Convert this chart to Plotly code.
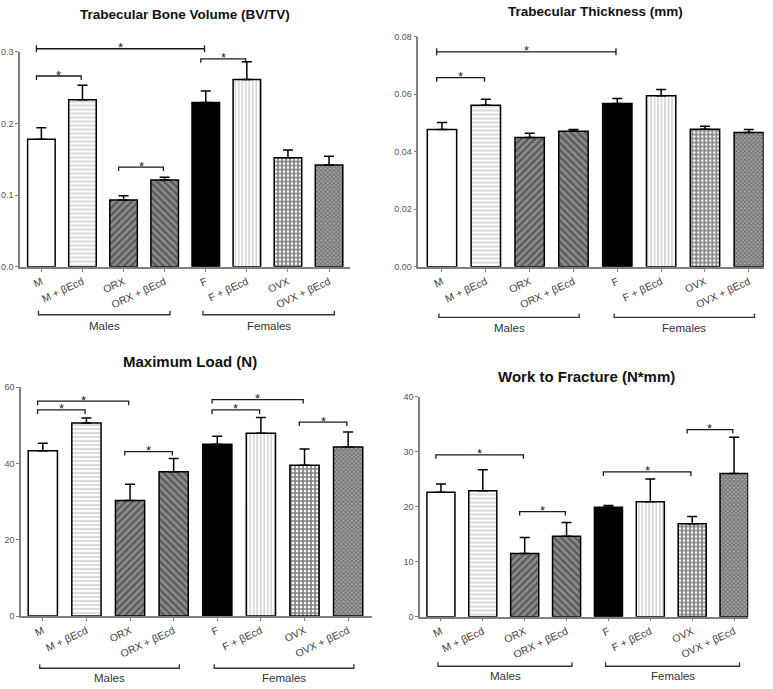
import plotly.graph_objects as go

# ---------------- data ----------------
categories = ["M", "M + βEcd", "ORX", "ORX + βEcd", "F", "F + βEcd", "OVX", "OVX + βEcd"]
groups = [("Males", 0, 3), ("Females", 4, 7)]

bvtv_mean = [0.178, 0.233, 0.093, 0.121, 0.229, 0.261, 0.152, 0.142]
bvtv_sem = [0.016, 0.020, 0.006, 0.004, 0.016, 0.025, 0.011, 0.012]
bvtv_sig = [(0, 4, 0.304), (0, 1, 0.266), (2, 3, 0.139), (4, 5, 0.290)]

thk_mean = [0.0477, 0.0561, 0.0449, 0.0471, 0.0567, 0.0594, 0.0478, 0.0467]
thk_sem = [0.0024, 0.0021, 0.0015, 0.0006, 0.0018, 0.0022, 0.0010, 0.0010]
thk_sig = [(0, 4, 0.0747), (0, 1, 0.0657)]

load_mean = [43.3, 50.6, 30.3, 37.8, 45.0, 47.9, 39.5, 44.3]
load_sem = [2.0, 1.3, 4.2, 3.5, 2.1, 4.1, 4.3, 3.9]
load_sig = [(0, 2, 56.3), (0, 1, 54.0), (2, 3, 43.1), (4, 6, 56.7), (4, 5, 54.0), (6, 7, 50.8)]

work_mean = [22.6, 22.9, 11.5, 14.6, 19.9, 20.9, 16.9, 26.0]
work_sem = [1.5, 3.8, 2.9, 2.5, 0.3, 4.1, 1.3, 6.6]
work_sig = [(0, 2, 29.4), (2, 3, 19.1), (4, 6, 26.3), (6, 7, 34.0)]

titles = ["Trabecular Bone Volume (BV/TV)", "Trabecular Thickness (mm)",
          "Maximum Load (N)", "Work to Fracture (N*mm)"]

# ---------------- styling / layout ----------------
W, H = 773, 689
FONT = "Arial, Liberation Sans, sans-serif"

bar_styles = [
    dict(color="white", shape="", fg="black", size=6, sol=0.3),
    dict(color="white", shape="-", fg="#6a6a6a", size=4, sol=0.25),
    dict(color="#8a8a8a", shape="/", fg="#262626", size=5, sol=0.42),
    dict(color="#8a8a8a", shape="\\", fg="#262626", size=5, sol=0.42),
    dict(color="black", shape="", fg="black", size=6, sol=0.3),
    dict(color="white", shape="|", fg="#777777", size=3.5, sol=0.3),
    dict(color="white", shape="+", fg="#000000", size=4, sol=0.65),
    dict(color="#a8a8a8", shape="x", fg="#2a2a2a", size=3, sol=0.5),
]

panels = [
    dict(mean=bvtv_mean, sem=bvtv_sem, sig=bvtv_sig, box=(20, 350, 47.3, 265.7),
         xr=(-0.52, 7.51), yr=(0, 0.3), dtick=0.1, fmt=".1f", capped=[0],
         title_xy=(185, 10), title_size=13.5, grp_dy=48.6, grp_lab_dy=11),
    dict(mean=thk_mean, sem=thk_sem, sig=thk_sig, box=(418.3, 763.7, 32, 265.7),
         xr=(-0.54, 7.34), yr=(0, 0.08), dtick=0.02, fmt=".2f", capped=[0],
         title_xy=(595, 7), title_size=13.5, grp_dy=51.3, grp_lab_dy=11),
    dict(mean=load_mean, sem=load_sem, sig=load_sig, box=(21, 371.7, 387.7, 620),
         xr=(-0.5, 7.54), yr=(0, 60), dtick=20, fmt="d", capped=[],
         title_xy=(190, 362), title_size=15, grp_dy=53, grp_lab_dy=10),
    dict(mean=work_mean, sem=work_sem, sig=work_sig, box=(420, 748.3, 397.3, 620.7),
         xr=(-0.5, 7.34), yr=(0, 40), dtick=10, fmt="d", capped=[],
         title_xy=(586.7, 377.3), title_size=15, grp_dy=50.3, grp_lab_dy=10),
]

fig = go.Figure()
shapes = []
annotations = []


def px_x(p):
    return p / W


def px_y(p):
    return 1 - p / H


for k, P in enumerate(panels):
    sfx = "" if k == 0 else str(k + 1)
    xa, ya = "x" + sfx, "y" + sfx
    left, right, top, bottom = P["box"]
    y0, y1 = P["yr"]

    def val_to_py(v, y0=y0, y1=y1, top=top, bottom=bottom):
        return bottom - (v - y0) / (y1 - y0) * (bottom - top)

    for c, cat in enumerate(categories):
        st = bar_styles[c]
        fig.add_trace(go.Bar(
            x=[cat], y=[P["mean"][c]], xaxis=xa, yaxis=ya, width=0.67,
            marker=dict(color=st["color"], line=dict(color="black", width=1.5),
                        pattern=dict(shape=st["shape"], fgcolor=st["fg"],
                                     size=st["size"], solidity=st["sol"],
                                     fillmode="overlay")),
            error_y=dict(type="data", symmetric=False, array=[P["sem"][c]],
                         arrayminus=[0], color="black", thickness=1.5, width=5),
            showlegend=False, hoverinfo="skip"))

    fig.layout["xaxis" + sfx] = dict(
        domain=[px_x(left), px_x(right)], anchor=ya, type="category",
        categoryorder="array", categoryarray=categories, range=list(P["xr"]),
        showline=True, linecolor="#808080", linewidth=1.5, showgrid=False,
        zeroline=False, ticks="outside", ticklen=3, tickcolor="#808080",
        tickangle=-25, tickfont=dict(family=FONT, size=10.5, color="#444"))
    fig.layout["yaxis" + sfx] = dict(
        domain=[px_y(bottom), px_y(top)], anchor=xa, range=list(P["yr"]),
        dtick=P["dtick"], tick0=0, tickformat=P["fmt"],
        showline=True, linecolor="#808080", linewidth=1.5, showgrid=False,
        zeroline=False, ticks="outside", ticklen=3, tickcolor="#808080",
        tickfont=dict(family=FONT, size=9, color="#555"))

    # significance brackets (y in pixels -> paper so nothing is clipped)
    for n, (i, j, yv) in enumerate(P["sig"]):
        x0, x1 = i - 0.12, j - 0.03
        py = val_to_py(yv)
        if n in P["capped"]:
            path = (f"M {x0},{px_y(py - 3.5)} L {x0},{px_y(py + 3.5)} "
                    f"M {x0},{px_y(py)} L {x1},{px_y(py)} "
                    f"M {x1},{px_y(py - 3.5)} L {x1},{px_y(py + 3.5)}")
        else:
            path = (f"M {x0},{px_y(py + 4)} L {x0},{px_y(py)} "
                    f"L {x1},{px_y(py)} L {x1},{px_y(py + 4)}")
        shapes.append(dict(type="path", xref=xa, yref="paper", path=path,
                           line=dict(color="#1a1a1a", width=1.3)))
        annotations.append(dict(x=(x0 + x1) / 2, y=px_y(py - 1), xref=xa, yref="paper",
                                text="*", showarrow=False, yanchor="middle",
                                font=dict(family=FONT, size=13, color="#222")))

    # group brackets beneath the axis
    gy = bottom + P["grp_dy"]
    for label, g0, g1 in groups:
        gx0, gx1 = g0 - 0.07, g1 + 0.13
        shapes.append(dict(type="path", xref=xa, yref="paper",
                           path=(f"M {gx0},{px_y(gy - 4)} L {gx0},{px_y(gy)} "
                                 f"L {gx1},{px_y(gy)} L {gx1},{px_y(gy - 4)}"),
                           line=dict(color="#333", width=1.3)))
        annotations.append(dict(x=(gx0 + gx1) / 2, y=px_y(gy + P["grp_lab_dy"]),
                                xref=xa, yref="paper", text=label, showarrow=False,
                                yanchor="middle",
                                font=dict(family=FONT, size=11.5, color="#333")))

    tx, ty = P["title_xy"]
    annotations.append(dict(x=px_x(tx), y=px_y(ty), xref="paper", yref="paper",
                            text="<b>" + titles[k] + "</b>", showarrow=False,
                            xanchor="center", yanchor="middle",
                            font=dict(family=FONT, size=P["title_size"], color="#111")))

fig.update_layout(
    width=W, height=H, margin=dict(l=0, r=0, t=0, b=0),
    paper_bgcolor="white", plot_bgcolor="white", barmode="overlay",
    shapes=shapes, annotations=annotations)

fig.write_html("out.html", config={"displayModeBar": False},
               post_script="document.body.style.margin='0';document.body.style.overflow='hidden';")
